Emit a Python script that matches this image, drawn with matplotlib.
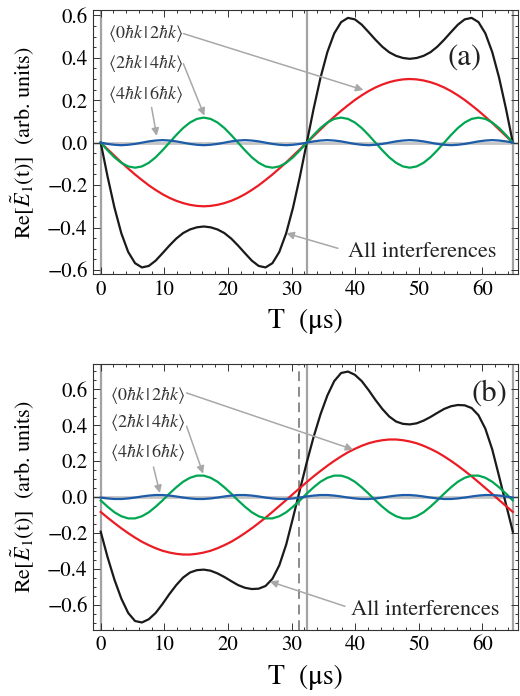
import numpy as np
import matplotlib
matplotlib.use("Agg")
import matplotlib.pyplot as plt
from matplotlib.ticker import AutoMinorLocator, FuncFormatter

plt.rcParams["font.family"] = ["STIXGeneral", "Liberation Serif", "DejaVu Serif"]
plt.rcParams["mathtext.fontset"] = "stix"

# Zeitachse (61 Stützstellen über eine Periode von 64.8 us)
T = np.linspace(0, 64.8, 61)

# --- Panel (a) ---
black_a = [0.000, -0.160, -0.306, -0.427, -0.515, -0.568, -0.588, -0.581, -0.556, -0.521,
           -0.485, -0.452, -0.426, -0.409, -0.399, -0.395, -0.399, -0.409, -0.426, -0.452,
           -0.485, -0.521, -0.556, -0.581, -0.588, -0.568, -0.515, -0.427, -0.306, -0.160,
           0.000, 0.160, 0.306, 0.427, 0.515, 0.568, 0.588, 0.581, 0.556, 0.521,
           0.485, 0.452, 0.426, 0.409, 0.399, 0.395, 0.399, 0.409, 0.426, 0.452,
           0.485, 0.521, 0.556, 0.581, 0.588, 0.568, 0.515, 0.427, 0.306, 0.160, 0.000]
red_a = [0.000, -0.031, -0.062, -0.093, -0.122, -0.150, -0.176, -0.201, -0.223, -0.243,
         -0.260, -0.274, -0.285, -0.293, -0.298, -0.300, -0.298, -0.293, -0.285, -0.274,
         -0.260, -0.243, -0.223, -0.201, -0.176, -0.150, -0.122, -0.093, -0.062, -0.031,
         0.000, 0.031, 0.062, 0.093, 0.122, 0.150, 0.176, 0.201, 0.223, 0.243,
         0.260, 0.274, 0.285, 0.293, 0.298, 0.300, 0.298, 0.293, 0.285, 0.274,
         0.260, 0.243, 0.223, 0.201, 0.176, 0.150, 0.122, 0.093, 0.062, 0.031, 0.000]
green_a = [0.000, -0.036, -0.069, -0.095, -0.112, -0.118, -0.112, -0.095, -0.069, -0.036,
           0.000, 0.036, 0.069, 0.095, 0.112, 0.118, 0.112, 0.095, 0.069, 0.036,
           0.000, -0.036, -0.069, -0.095, -0.112, -0.118, -0.112, -0.095, -0.069, -0.036,
           0.000, 0.036, 0.069, 0.095, 0.112, 0.118, 0.112, 0.095, 0.069, 0.036,
           0.000, -0.036, -0.069, -0.095, -0.112, -0.118, -0.112, -0.095, -0.069, -0.036,
           0.000, 0.036, 0.069, 0.095, 0.112, 0.118, 0.112, 0.095, 0.069, 0.036, 0.000]
blue_a = [0.000, -0.006, -0.010, -0.012, -0.010, -0.006, 0.000, 0.006, 0.010, 0.012, 0.010, 0.006,
          0.000, -0.006, -0.010, -0.012, -0.010, -0.006, 0.000, 0.006, 0.010, 0.012, 0.010, 0.006,
          0.000, -0.006, -0.010, -0.012, -0.010, -0.006, 0.000, 0.006, 0.010, 0.012, 0.010, 0.006,
          0.000, -0.006, -0.010, -0.012, -0.010, -0.006, 0.000, 0.006, 0.010, 0.012, 0.010, 0.006,
          0.000, -0.006, -0.010, -0.012, -0.010, -0.006, 0.000, 0.006, 0.010, 0.012, 0.010, 0.006,
          0.000]

# --- Panel (b) ---
black_b = [-0.193, -0.335, -0.460, -0.565, -0.645, -0.690, -0.698, -0.680, -0.645, -0.595,
           -0.540, -0.490, -0.448, -0.420, -0.407, -0.404, -0.410, -0.425, -0.445, -0.468,
           -0.490, -0.505, -0.512, -0.510, -0.495, -0.455, -0.380, -0.265, -0.115, 0.040,
           0.193, 0.335, 0.460, 0.565, 0.645, 0.690, 0.698, 0.680, 0.645, 0.595,
           0.540, 0.490, 0.448, 0.420, 0.407, 0.404, 0.410, 0.425, 0.445, 0.468,
           0.490, 0.505, 0.512, 0.510, 0.495, 0.455, 0.380, 0.265, 0.115, -0.040, -0.193]
red_b = [-0.083, -0.115, -0.145, -0.174, -0.201, -0.226, -0.249, -0.268, -0.285, -0.299,
         -0.309, -0.316, -0.320, -0.320, -0.316, -0.309, -0.299, -0.285, -0.268, -0.249,
         -0.226, -0.201, -0.174, -0.145, -0.115, -0.083, -0.050, -0.017, 0.017, 0.050,
         0.083, 0.115, 0.145, 0.174, 0.201, 0.226, 0.249, 0.268, 0.285, 0.299,
         0.309, 0.316, 0.320, 0.320, 0.316, 0.309, 0.299, 0.285, 0.268, 0.249,
         0.226, 0.201, 0.174, 0.145, 0.115, 0.083, 0.050, 0.017, -0.017, -0.050, -0.083]
green_b = [-0.019, -0.054, -0.085, -0.107, -0.119, -0.119, -0.107, -0.085, -0.054, -0.019,
           0.019, 0.054, 0.085, 0.107, 0.119, 0.119, 0.107, 0.085, 0.054, 0.019,
           -0.019, -0.054, -0.085, -0.107, -0.119, -0.119, -0.107, -0.085, -0.054, -0.019,
           0.019, 0.054, 0.085, 0.107, 0.119, 0.119, 0.107, 0.085, 0.054, 0.019,
           -0.019, -0.054, -0.085, -0.107, -0.119, -0.119, -0.107, -0.085, -0.054, -0.019,
           0.019, 0.054, 0.085, 0.107, 0.119, 0.119, 0.107, 0.085, 0.054, 0.019, -0.019]
blue_b = [-0.003, -0.008, -0.011, -0.011, -0.008, -0.003, 0.003, 0.008, 0.011, 0.011, 0.008, 0.003,
          -0.003, -0.008, -0.011, -0.011, -0.008, -0.003, 0.003, 0.008, 0.011, 0.011, 0.008, 0.003,
          -0.003, -0.008, -0.011, -0.011, -0.008, -0.003, 0.003, 0.008, 0.011, 0.011, 0.008, 0.003,
          -0.003, -0.008, -0.011, -0.011, -0.008, -0.003, 0.003, 0.008, 0.011, 0.011, 0.008, 0.003,
          -0.003, -0.008, -0.011, -0.011, -0.008, -0.003, 0.003, 0.008, 0.011, 0.011, 0.008, 0.003,
          -0.003]

# Markierungen (vertikale Linien) in us
vlines_a = [0.0, 32.4, 64.8]
vlines_b = [0.0, 32.4, 64.8]
dashed_b = 31.2

labels = [r"$\langle 0\hbar k\,|\,2\hbar k\rangle$",
          r"$\langle 2\hbar k\,|\,4\hbar k\rangle$",
          r"$\langle 4\hbar k\,|\,6\hbar k\rangle$"]

c_black = "#1a1a1a"
c_red = "#ec1c24"
c_green = "#00a651"
c_blue = "#1c5ca8"
c_grey = "#a3a3a3"
c_arrow = "#a8a8a8"

fig = plt.figure(figsize=(5.2, 6.96), dpi=100)
ax_a = fig.add_axes([0.179, 0.606, 0.817, 0.3796])
ax_b = fig.add_axes([0.179, 0.0948, 0.817, 0.3822])

# Tick-Beschriftung mit langem Minuszeichen
y_fmt = FuncFormatter(lambda v, pos: ("%.1f" % v).replace("-", "\u2212"))


def draw_panel(ax, black, red, green, blue, vlines, ylim):
    ax.axhline(0, color="#c4c4c4", lw=2.0, zorder=1)
    for v in vlines:
        ax.axvline(v, color=c_grey, lw=1.6, zorder=1)
    ax.plot(T, black, color=c_black, lw=1.6, zorder=3)
    ax.plot(T, red, color=c_red, lw=1.6, zorder=3)
    ax.plot(T, green, color=c_green, lw=1.6, zorder=3)
    ax.plot(T, blue, color=c_blue, lw=1.6, zorder=4)

    ax.set_xlim(-1.2, 65.6)
    ax.set_ylim(*ylim)
    ax.set_xticks([0, 10, 20, 30, 40, 50, 60])
    ax.set_yticks([-0.6, -0.4, -0.2, 0.0, 0.2, 0.4, 0.6])
    ax.yaxis.set_major_formatter(y_fmt)
    ax.xaxis.set_minor_locator(AutoMinorLocator(5))
    ax.yaxis.set_minor_locator(AutoMinorLocator(4))
    ax.tick_params(which="both", direction="in", top=True, right=True,
                   labelsize=15, width=0.7, color="#333333")
    ax.tick_params(which="major", length=5, pad=4)
    ax.tick_params(which="minor", length=2.5)
    for s in ax.spines.values():
        s.set_linewidth(0.8)
        s.set_color("#333333")

    ax.set_xlabel(r"T  (μs)", fontsize=20)
    ax.xaxis.set_label_coords(0.5, -0.13)
    ax.set_ylabel(r"$\mathrm{Re}[\tilde{E}_1(\mathrm{t})]$  (arb. units)", fontsize=16)
    ax.yaxis.set_label_coords(-0.135, 0.5)


def arrow(ax, text_xy, tip_xy):
    ax.annotate("", xy=tip_xy, xytext=text_xy,
                arrowprops=dict(arrowstyle="-|>", color=c_arrow, lw=1.1,
                                mutation_scale=11, shrinkA=0, shrinkB=0),
                zorder=5)


draw_panel(ax_a, black_a, red_a, green_a, blue_a, vlines_a, (-0.62, 0.625))
draw_panel(ax_b, black_b, red_b, green_b, blue_b, vlines_b, (-0.74, 0.74))
ax_b.axvline(dashed_b, color="#8a8a8a", lw=1.4, ls=(0, (5, 3)), zorder=1)

# Beschriftungen Panel (a)
for lab, y in zip(labels, [0.515, 0.371, 0.228]):
    ax_a.text(1.2, y, lab, fontsize=13, color="#333333", va="center", ha="left")
arrow(ax_a, (13.0, 0.514), (41.3, 0.248))
arrow(ax_a, (13.0, 0.372), (16.3, 0.127))
arrow(ax_a, (8.0, 0.166), (8.8, 0.032))
ax_a.text(38.9, -0.517, "All interferences", fontsize=16, va="center", ha="left",
          color="#222222")
arrow(ax_a, (37.3, -0.498), (29.2, -0.427))
ax_a.text(57.2, 0.40, "(a)", fontsize=22, va="center", ha="center", color="#222222")

# Beschriftungen Panel (b)
for lab, y in zip(labels, [0.567, 0.413, 0.246]):
    ax_b.text(1.4, y, lab, fontsize=13, color="#333333", va="center", ha="left")
arrow(ax_b, (13.5, 0.579), (39.7, 0.264))
arrow(ax_b, (13.5, 0.394), (16.1, 0.130))
arrow(ax_b, (8.3, 0.167), (9.3, 0.022))
ax_b.text(39.4, -0.631, "All interferences", fontsize=16, va="center", ha="left",
          color="#222222")
arrow(ax_b, (38.4, -0.608), (26.6, -0.470))
ax_b.text(61.1, 0.575, "(b)", fontsize=22, va="center", ha="center", color="#222222")

fig.savefig("out.png", dpi=100)
